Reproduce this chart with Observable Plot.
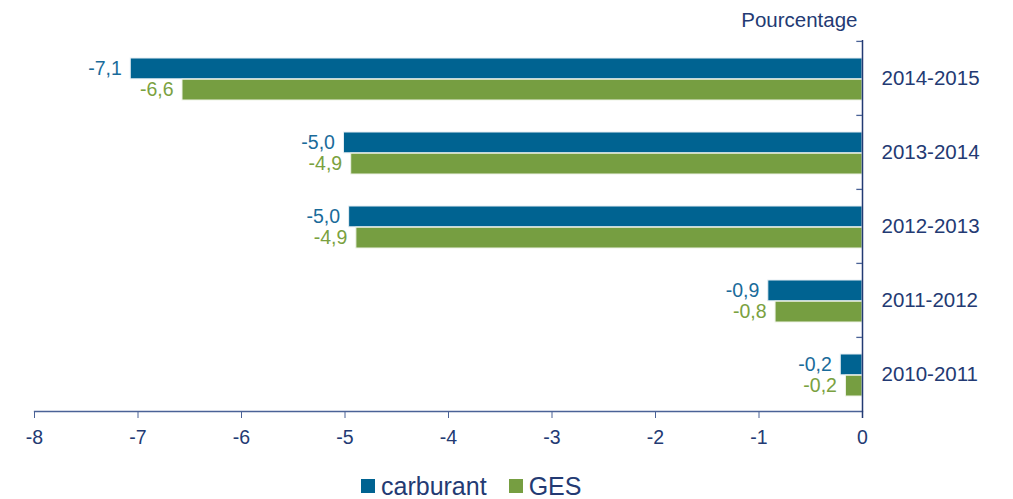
<!DOCTYPE html>
<html>
<head>
<meta charset="utf-8">
<script src="https://cdn.jsdelivr.net/npm/d3@7"></script>
<script src="https://cdn.jsdelivr.net/npm/@observablehq/plot@0.6"></script>
<style>
  body { margin: 0; background: #fff; font-family: "Liberation Sans", Arial, sans-serif; }
  #legend { display: flex; align-items: center; padding-left: 361px; margin-top: 11px; height: 30px; line-height: 30px; font-size: 25px; color: #233a73; }
  .item { display: flex; align-items: center; margin-right: 22px; }
  .sw { width: 14px; height: 14px; margin-right: 6px; }
</style>
</head>
<body>
<div id="chart"></div>
<div id="legend"></div>
<script>
const periods = ["2014-2015", "2013-2014", "2012-2013", "2011-2012", "2010-2011"];
const carburant = [-7.07, -5.01, -4.96, -0.91, -0.21];
const ges = [-6.57, -4.94, -4.89, -0.84, -0.16];
const xTicks = [-8, -7, -6, -5, -4, -3, -2, -1, 0];
const seriesNames = ["carburant", "GES"];
const seriesColors = ["#006391", "#769e41"];
const labelColors = ["#1a6b9a", "#7aa140"];

const fmt = v => v.toFixed(1).replace(".", ",");
const dataC = periods.map((p, i) => ({period: p, value: carburant[i]}));
const dataG = periods.map((p, i) => ({period: p, value: ges[i]}));

const navy = "#233a73";

const plot = Plot.plot({
  width: 1013,
  height: 460,
  marginLeft: 34,
  marginRight: 151,
  marginTop: 40,
  marginBottom: 49,
  style: {fontFamily: "'Liberation Sans', Arial, sans-serif", background: "#fff", color: navy},
  x: {domain: [-8, 0], ticks: xTicks, tickFormat: d => String(d), tickSize: 7, tickPadding: 12, label: null},
  y: {domain: periods, padding: 0, label: null},
  marks: [
    Plot.barX(dataC, {x: "value", y: "period", fill: seriesColors[0], stroke: "#e6eef4", strokeWidth: 1, insetTop: 17, insetBottom: 36.2}),
    Plot.barX(dataG, {x: "value", y: "period", fill: seriesColors[1], stroke: "#eef3e6", strokeWidth: 1, insetTop: 38.2, insetBottom: 15}),
    Plot.text(dataC, {x: "value", y: "period", text: d => fmt(d.value), textAnchor: "end", dx: -9, dy: -10, fill: labelColors[0], fontSize: 19.5}),
    Plot.text(dataG, {x: "value", y: "period", text: d => fmt(d.value), textAnchor: "end", dx: -9, dy: 11, fill: labelColors[1], fontSize: 19.5}),
    Plot.frame({anchor: "bottom", stroke: "#4a6296", strokeWidth: 1.3}),
    Plot.axisX({ticks: xTicks, tickFormat: d => String(d), tickSize: 7, tickPadding: 12, fontSize: 19.5, stroke: "#4a6296", fill: navy, label: null}),
    Plot.ruleX([0], {stroke: navy, strokeWidth: 1.5, insetBottom: -7}),
    Plot.ruleY(periods, {y: d => d, x1: -0.055, x2: 0, dy: -37.1, stroke: "#4a6296", strokeWidth: 1.3}),
    Plot.axisY({anchor: "right", tickSize: 0, tickPadding: 19, fontSize: 20.5, fill: navy, label: null}),
    Plot.text(["Pourcentage"], {frameAnchor: "top-right", text: d => d, textAnchor: "end", dx: -5, dy: -28, fontSize: 20.5, fill: navy})
  ]
});
document.getElementById("chart").appendChild(plot);

const legend = document.getElementById("legend");
seriesNames.forEach((name, i) => {
  const item = document.createElement("div");
  item.className = "item";
  const sw = document.createElement("div");
  sw.className = "sw";
  sw.style.background = seriesColors[i];
  const label = document.createElement("span");
  label.textContent = name;
  item.appendChild(sw);
  item.appendChild(label);
  legend.appendChild(item);
});
</script>
</body>
</html>
